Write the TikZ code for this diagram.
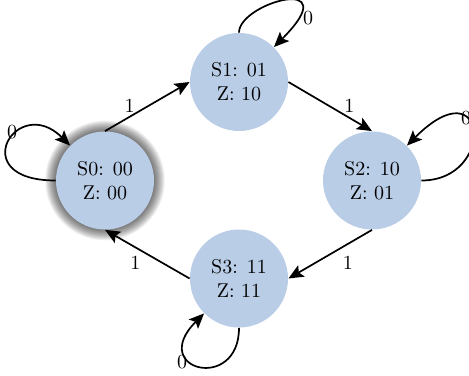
\documentclass[tikz,border=0pt]{standalone}
\usetikzlibrary{arrows.meta}
\definecolor{stfill}{RGB}{186,205,231}
\tikzset{
  state/.style={circle, fill=stfill, minimum size=49pt, inner sep=0pt, align=center, font=\normalsize},
  tr/.style={line width=0.85pt, -{Stealth[length=7.5pt,width=6.5pt,inset=1.5pt]}},
  lbl/.style={inner sep=0pt, anchor=center},
}
\begin{document}
\begin{tikzpicture}[x=0.5pt,y=0.5pt]
\useasboundingbox (0,0) rectangle (469,375);
\coordinate (c0) at (105,194.5);
\foreach \i in {1,...,16}{
  \fill[black, opacity=0.042] (c0) circle ({24.5pt+\i*0.34pt});
}
\node[state] (S0) at (c0) {S0: 00\\Z: 00};
\node[state] (S1) at (239,293) {S1: 01\\Z: 10};
\node[state] (S2) at (372,194.5) {S2: 10\\Z: 01};
\node[state] (S3) at (239,96.5) {S3: 11\\Z: 11};

\draw[tr] (S0.north) -- node[lbl, pos=0.29, yshift=5.5pt] (l01) {1} (S1.west);
\draw[tr] (S1.east) -- node[lbl, pos=0.73, yshift=6pt] (l12) {1} (S2.north);
\draw[tr] (S2.south) -- node[lbl, pos=0.29, yshift=-9.5pt] (l23) {1} (S3.east);
\draw[tr] (S3.west) -- node[lbl, pos=0.64, yshift=-7.5pt] (l30) {1} (S0.south);

\draw[tr] (S0.west) .. controls +(180:92) and +(135:75) .. (S0.135);
\draw[tr] (S1.north) .. controls +(90:30) and +(45:105) .. (S1.45);
\draw[tr] (S2.east) .. controls +(0:75) and +(45:115) .. (S2.45);
\draw[tr] (S3.south) .. controls +(270:65) and +(225:80) .. (S3.225);

\node[lbl] (z0) at (12,243) {0};
\node[lbl] (z1) at (308,357) {0};
\node[lbl] (z2) at (466,257) {0};
\node[lbl] (z3) at (182,13) {0};
\end{tikzpicture}
\end{document}
